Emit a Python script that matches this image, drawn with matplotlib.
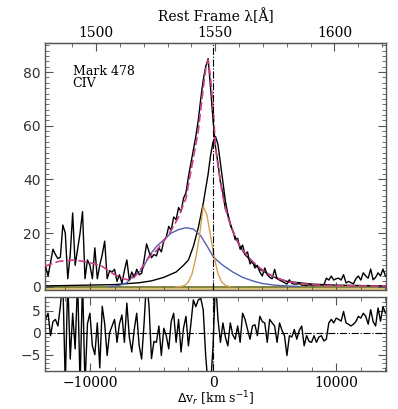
import numpy as np
import matplotlib
matplotlib.use("Agg")
from matplotlib import pyplot as plt
from matplotlib.ticker import MultipleLocator, FixedLocator

plt.rcParams['font.family'] = ['DejaVu Serif']

# velocity sampling of the spectrum [km/s]
v_start, v_step, n_pix = -13600, 200, 139
vel = v_start + v_step * np.arange(n_pix)

flux = [7.5, 4, 9, 14, 12, 10.5, 11, 23, 20, 3, 12, 27.5, 8, 14, 20, 28, 3, 10, 8, 3,
        14.5, 3, 8, 12, 17, 3, 6, 5.5, 6.5, 2, 4.5, 1.3, 6, 10, 2.5, 5.5, 3.5, 6.5, 4.5,
        5, 10, 16, 13, 10.8, 12, 11.5, 14.5, 13, 17, 18.5, 22.5, 21, 26, 25, 29.5, 28, 33,
        35, 41, 46, 51, 56, 62, 70, 77, 82, 85, 74, 62,
        52, 46, 39, 35, 29, 27, 23, 21, 17.5, 18, 14, 15.5, 12, 13, 8.5, 9.5, 7, 8, 5.5, 4,
        7, 4.5, 3.5, 3, 6.5, 3, 2.5, 2, 1.5, 1, 2.6, 1.2, 1, 1, 1.2, 0.6, 0.6, 0.5, 0.7, 0.6,
        0.5, 0.6, 0.5, 0.7, 0.6, 3.2, 2.5, 4, 2.5, 3, 3.2, 2.5, 4.5, 1.4, 2, 1.5, 1.1, 3, 4,
        2.5, 5.2, 4, 3.2, 6.6, 2.6, 3.5, 5.2, 4, 6.6, 4]

resid = [3, 4.4, -0.7, 2.5, 3, 1.5, 6, 12, -12, 12, -6, 4.4, -3.7, 12, -12, 12, -12, 2, 4.4, -3,
         -5, 2.2, -8, 6, 2, -5.2, 0, 1.5, 3, -2.2, 2, 4, -2.2, 6.7, -1, -4.4, 0.7, 4.4, -3, -6,
         2.2, 12, 6, -5.9, -2, -2.2, 1.5, -5.2, 1, -0.7, -3.7, 2.5, 4.4, -2.2, 3, -4.4, 1, 3.7,
         -3, 2, 7.4, 5.9, 7.4, 7.8, 5.2, -5.2, -12, -12, -3, 12, 3, -2.2, 2.2, -1, -3, 2.2, -0.5,
         -1.5, 1.5, -2.2, 4.4, 3, 0.7, -1.5, 1.5, 1.8, -0.7, 3.7, 2.5, 2.2, -2.2, 3, 2.2, 1.5,
         -2.2, 2.2, 0.5, -0.7, -5.2, -0.7, -1, 0.7, -1.5, 0.5, 1.5, -3, -0.7, -2, -2.2, -0.7,
         -2.2, -1, -0.7, -1.9, -1.5, 2.2, 3, 2.2, 3.3, 3, 2.6, 4.8, 2.2, 1.9, 1.5, 1.9, 2.5, 3.7,
         3.3, 4.4, 3.7, 1.9, 5.2, 2.5, 1.5, 5.6, 2.6, 5.9, 4.4]

# total model (magenta dashed)
model_v = [-13700, -12500, -11200, -10000, -9000, -8000, -7000, -6400, -5800, -5200, -4600,
           -4000, -3400, -2800, -2200, -1600, -1200, -1000, -800, -600, -400, -200, 0, 200,
           400, 600, 800, 1000, 1200, 1500, 1800, 2200, 2600, 3200, 3800, 4400, 5000, 6000,
           7000, 8000, 9000, 10000, 12000, 14100]
model_f = [7.6, 9.5, 10, 9, 7.6, 4.5, 2.6, 3.5, 7, 11, 13.5, 17, 21, 26, 33, 48, 58, 66, 74,
           81, 84.5, 78, 67, 52, 45, 39, 33.5, 29.5, 26, 22, 18.5, 15, 12.5, 9.5, 7, 5, 3.5, 2,
           1.2, 0.8, 0.5, 0.4, 0.3, 0.3]

# narrow component (black)
narrow_v = [-13700, -8000, -6000, -5000, -4000, -3000, -2400, -2000, -1600, -1200, -800, -400,
            -200, 0, 200, 400, 600, 800, 1000, 1200, 1500, 1800, 2200, 2600, 3200, 3800, 4400,
            5000, 6000, 7000, 8000, 10000, 14100]
narrow_f = [0.3, 0.8, 1.5, 2.2, 3.5, 5.5, 8, 10, 15, 22, 31, 42, 49, 54, 56, 53, 46, 39, 32,
            27, 22, 18.5, 15, 12, 9, 6.5, 5, 3.5, 2, 1.5, 1.0, 0.6, 0.3]

# broad component (blue)
broad_v = [-8400, -7600, -7000, -6400, -5800, -5200, -4600, -4000, -3400, -2800, -2200, -1600,
           -1000, -400, 0, 400, 800, 1600, 2400, 3200, 4000, 5000, 6000, 7000]
broad_f = [0, 0.5, 1.5, 4.5, 6, 11.5, 15, 17.5, 20, 21.3, 22, 21.5, 19, 14.5, 11.3, 9.5, 8,
           5.5, 3.5, 2.2, 1.2, 0.6, 0.3, 0.1]

# intermediate component (yellow)
inter_v = [-3000, -2600, -2300, -2000, -1700, -1400, -1100, -800, -500, -200, 100, 400, 700,
           1000, 1400]
inter_f = [0, 0.1, 0.5, 1.8, 4.9, 10.8, 19, 30, 26.8, 19, 10.8, 4.9, 1.8, 0.5, 0]

lam_ticks = [1500, 1550, 1600]

c_kms = 299792.458
lam0 = 1549.06


def v2lam(v):
    return lam0 * (1 + np.asarray(v) / c_kms)


def lam2v(lam):
    return (np.asarray(lam) / lam0 - 1) * c_kms


fig = plt.figure(figsize=(3.98, 4.09), dpi=100)
ax = fig.add_axes([0.113, 0.291, 0.857, 0.605])
axr = fig.add_axes([0.113, 0.092, 0.857, 0.182], sharex=ax)

xlim = (-13650, 14050)

# main panel
ax.axhline(0, color='#7a7a30', lw=1.3, zorder=1)
ax.axhline(-0.7, color='#d8b860', lw=1.2, zorder=1)
ax.plot(vel, flux, color='black', lw=1.0, zorder=3)
ax.plot(narrow_v, narrow_f, color='black', lw=1.0, zorder=2)
ax.plot(broad_v, broad_f, color='#5060b0', lw=1.0, zorder=2)
ax.plot(inter_v, inter_f, color='#d4a050', lw=1.0, zorder=2)
ax.plot(model_v, model_f, color='#cc3f8c', lw=1.2, ls=(0, (5, 2)), zorder=4)
ax.axvline(0, color='black', lw=0.8, ls='-.', zorder=5)

ax.set_xlim(*xlim)
ax.set_ylim(-1.2, 91)
ax.yaxis.set_major_locator(MultipleLocator(20))
ax.yaxis.set_minor_locator(MultipleLocator(2))
ax.xaxis.set_major_locator(MultipleLocator(10000))
ax.xaxis.set_minor_locator(MultipleLocator(2000))
ax.tick_params(axis='x', labelbottom=False)
ax.text(-11400, 78, 'Mark 478\nCIV', fontsize=9, va='center', linespacing=0.95)

top = ax.secondary_xaxis('top', functions=(v2lam, lam2v))
top.xaxis.set_major_locator(FixedLocator(lam_ticks))
top.xaxis.set_minor_locator(FixedLocator(list(range(1490, 1621, 10))))
top.tick_params(which='major', direction='in', length=6, labelsize=10, pad=2, color='#555555')
top.tick_params(which='minor', direction='in', length=3, color='#555555')
top.set_xlabel('Rest Frame λ[Å]', fontsize=10, labelpad=3)

# residual panel
axr.plot(vel, resid, color='black', lw=1.0)
axr.axhline(0, color='black', lw=0.8, ls='-.')
axr.axvline(0, color='black', lw=0.8, ls='-.')
axr.set_ylim(-8.8, 8.1)
axr.yaxis.set_major_locator(MultipleLocator(5))
axr.yaxis.set_minor_locator(MultipleLocator(1))
axr.set_xlabel(r'$\Delta$v$_r$ [km s$^{-1}$]', fontsize=9, labelpad=0)

for a in (ax, axr):
    a.tick_params(which='major', direction='in', length=6, top=(a is axr), right=True,
                  labelsize=10, color='#555555', pad=3)
    a.tick_params(which='minor', direction='in', length=3, top=(a is axr), right=True,
                  color='#555555')
    for s in a.spines.values():
        s.set_color('#555555')
        s.set_linewidth(1.0)
    for lab in a.get_yticklabels():
        lab.set_family('DejaVu Sans')
        lab.set_color('#333333')

fig.savefig('out.png', dpi=100)
